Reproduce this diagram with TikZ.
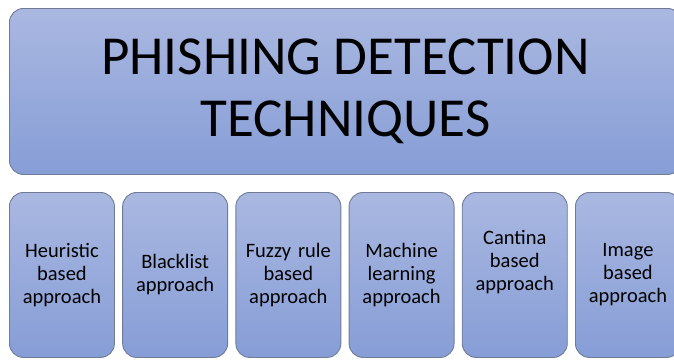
\documentclass[tikz,border=0pt]{standalone}
\usepackage{fontspec}
\setmainfont{Carlito}
\usetikzlibrary{positioning}
\definecolor{boxtop}{RGB}{170,184,225}
\definecolor{boxbot}{RGB}{134,157,214}
\definecolor{boxline}{RGB}{112,124,150}
\tikzset{
  panel/.style={draw=boxline, line width=0.9pt, rounded corners=14pt,
    top color=boxtop, bottom color=boxbot, inner sep=0pt, anchor=north west},
  titlebox/.style={panel, minimum width=672pt, minimum height=166pt,
    font=\fontsize{55}{62}\selectfont, align=center},
  leafbox/.style={panel, minimum width=105pt, minimum height=165pt,
    font=\fontsize{20.5}{23}\selectfont, align=center, text width=103pt}
}
\begin{document}
\begin{tikzpicture}[x=1pt,y=-1pt]
\useasboundingbox (0,0) rectangle (674,360);
\clip (0,0) rectangle (674,360);
\node[titlebox] (title) at (9,8) {PHISHING DETECTION\\TECHNIQUES};
\node[leafbox] (heur) at (9,192) {Heuristic\\based\\approach};
\node[leafbox] (black) at (122.2,192) {Blacklist\\approach};
\node[leafbox] (fuzzy) at (235.4,192) {Fuzzy rule\\based\\approach};
\node[leafbox] (ml) at (348.6,192) {Machine\\learning\\approach};
\node[leafbox] (cant) at (461.8,192) {Cantina\\based\\approach\\[7pt]~};
\node[leafbox] (img) at (575,192) {Image\\based\\approach};
\end{tikzpicture}
\end{document}
